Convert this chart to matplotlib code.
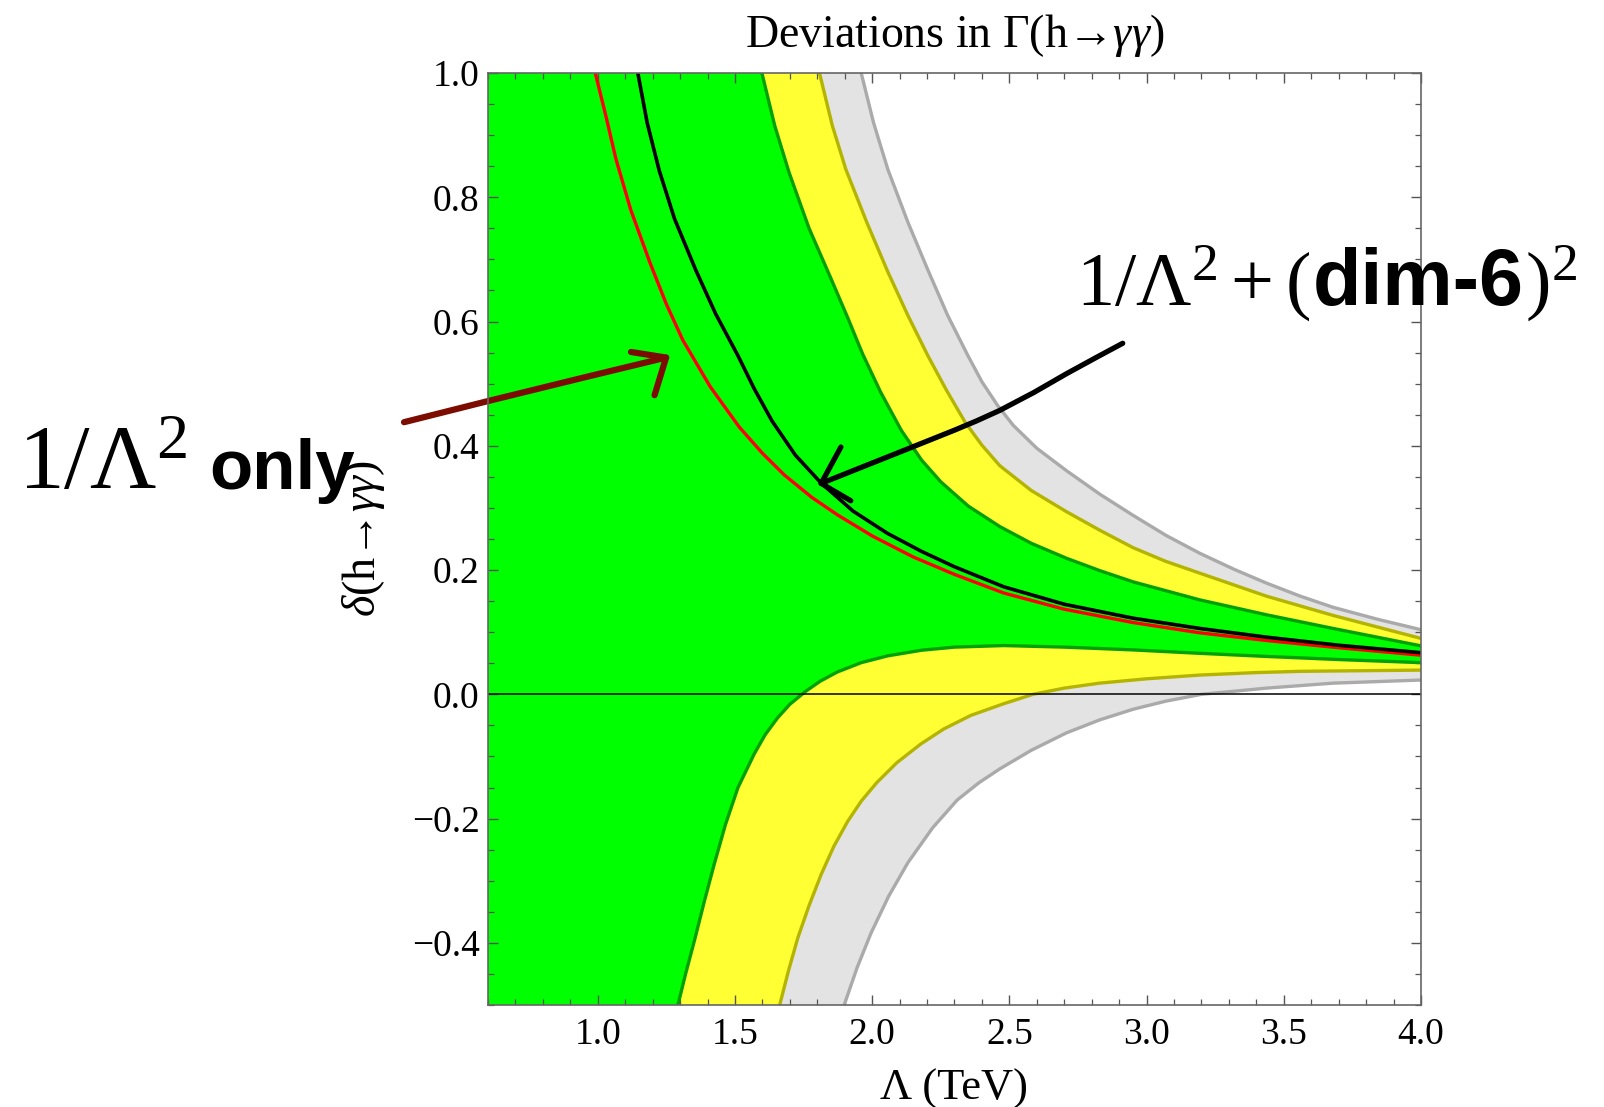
import numpy as np
import matplotlib
matplotlib.use('Agg')
import matplotlib.pyplot as plt
from matplotlib.ticker import FuncFormatter

plt.rcParams['font.family'] = ['Liberation Serif', 'DejaVu Serif']
plt.rcParams['mathtext.fontset'] = 'custom'
plt.rcParams['mathtext.rm'] = 'Liberation Serif'
plt.rcParams['mathtext.it'] = 'Liberation Serif:italic'
plt.rcParams['mathtext.bf'] = 'Liberation Sans:bold'

# values (Lambda in TeV, delta)
red_x = [0.991, 1.03, 1.066, 1.12, 1.19, 1.25, 1.31, 1.41, 1.516, 1.60, 1.68, 1.78,
         1.873, 2.0, 2.15, 2.30, 2.48, 2.70, 2.951, 3.194, 3.437, 3.70, 4.0]
red_y = [1.0, 0.93, 0.862, 0.78, 0.695, 0.628, 0.57, 0.495, 0.43, 0.388, 0.353, 0.317,
         0.289, 0.255, 0.221, 0.193, 0.163, 0.137, 0.1155, 0.099, 0.0866, 0.075, 0.063]

black_x = [1.146, 1.18, 1.224, 1.28, 1.357, 1.43, 1.511, 1.57, 1.635, 1.72, 1.814,
           1.93, 2.056, 2.18, 2.299, 2.48, 2.70, 2.951, 3.194, 3.437, 3.70, 4.0]
black_y = [1.0, 0.92, 0.843, 0.765, 0.683, 0.612, 0.545, 0.492, 0.44, 0.385, 0.34,
           0.295, 0.259, 0.23, 0.2055, 0.173, 0.145, 0.1225, 0.106, 0.092, 0.079, 0.067]

green_up_x = [1.598, 1.645, 1.697, 1.77, 1.849, 1.91, 1.965, 2.03, 2.106, 2.18, 2.25,
              2.35, 2.465, 2.58, 2.708, 2.83, 2.951, 3.194, 3.437, 3.68, 4.0]
green_up_y = [1.0, 0.915, 0.84, 0.75, 0.67, 0.607, 0.548, 0.487, 0.425, 0.377, 0.342,
              0.303, 0.27, 0.243, 0.219, 0.199, 0.181, 0.152, 0.128, 0.106, 0.078]
green_lo_x = [1.292, 1.32, 1.353, 1.389, 1.424, 1.465, 1.511, 1.57, 1.61, 1.655, 1.70,
              1.758, 1.81, 1.873, 1.96, 2.057, 2.18, 2.30, 2.48, 2.70, 2.951, 3.194,
              3.437, 3.70, 4.0]
green_lo_y = [-0.5, -0.45, -0.395, -0.332, -0.274, -0.21, -0.15, -0.096, -0.065, -0.038,
              -0.016, 0.005, 0.021, 0.036, 0.051, 0.062, 0.071, 0.076, 0.0785, 0.076,
              0.0715, 0.066, 0.061, 0.056, 0.051]

yel_up_x = [1.808, 1.855, 1.904, 1.98, 2.057, 2.13, 2.203, 2.27, 2.34, 2.40, 2.465,
            2.58, 2.708, 2.83, 2.951, 3.07, 3.194, 3.437, 3.68, 4.0]
yel_up_y = [1.0, 0.915, 0.845, 0.76, 0.68, 0.61, 0.545, 0.49, 0.437, 0.401, 0.368,
            0.328, 0.294, 0.264, 0.236, 0.214, 0.195, 0.158, 0.127, 0.090]
yel_lo_x = [1.663, 1.695, 1.729, 1.77, 1.814, 1.86, 1.910, 1.96, 2.017, 2.09, 2.177,
            2.26, 2.359, 2.48, 2.586, 2.70, 2.829, 3.0, 3.194, 3.40, 3.558, 4.0]
yel_lo_y = [-0.5, -0.445, -0.392, -0.34, -0.29, -0.245, -0.205, -0.172, -0.142, -0.11,
            -0.08, -0.056, -0.034, -0.015, 0.0, 0.01, 0.018, 0.025, 0.031, 0.035, 0.037,
            0.039]

gray_up_x = [1.960, 2.005, 2.057, 2.13, 2.203, 2.275, 2.349, 2.40, 2.457, 2.514, 2.60,
             2.708, 2.83, 2.951, 3.07, 3.194, 3.32, 3.437, 3.56, 3.68, 3.84, 4.0]
gray_up_y = [1.0, 0.92, 0.845, 0.76, 0.683, 0.61, 0.545, 0.503, 0.465, 0.433, 0.396,
             0.36, 0.322, 0.288, 0.256, 0.227, 0.201, 0.179, 0.158, 0.14, 0.121, 0.104]
gray_lo_x = [1.898, 1.945, 1.996, 2.06, 2.130, 2.22, 2.31, 2.39, 2.465, 2.58, 2.708,
             2.83, 2.951, 3.07, 3.2, 3.437, 3.68, 4.0]
gray_lo_y = [-0.5, -0.44, -0.384, -0.325, -0.271, -0.215, -0.17, -0.142, -0.12, -0.09,
             -0.062, -0.041, -0.024, -0.011, 0.0, 0.010, 0.018, 0.023]

# hand drawn arrows
arrow_red_x = [0.294, 0.6, 0.95, 1.249]
arrow_red_y = [0.438, 0.472, 0.51, 0.542]
arrow_red_head_x = [1.121, 1.249, 1.207]
arrow_red_head_y = [0.551, 0.542, 0.4815]
arrow_blk_x = [2.913, 2.82, 2.708, 2.59, 2.465, 2.38, 2.299, 2.118, 1.814]
arrow_blk_y = [0.565, 0.543, 0.516, 0.486, 0.457, 0.44, 0.425, 0.393, 0.3395]
arrow_blk_head_x = [1.886, 1.814, 1.922]
arrow_blk_head_y = [0.398, 0.3395, 0.3116]

xmin, xmax = 0.6, 4.0
ymin, ymax = -0.5, 1.0

fig = plt.figure(figsize=(16.04, 11.07), dpi=100)
ax = fig.add_axes([488/1604, 1-1005/1107, 933/1604, 932/1107])

bands = [
    (gray_up_x, gray_up_y, gray_lo_x, gray_lo_y, '#e3e3e3', '#aaaaaa'),
    (yel_up_x, yel_up_y, yel_lo_x, yel_lo_y, '#ffff33', '#b4b400'),
    (green_up_x, green_up_y, green_lo_x, green_lo_y, '#00ff00', '#00a000'),
]
for ux, uy, lx, ly, fc, ec in bands:
    px = np.concatenate([ux, lx[::-1], [xmin, xmin]])
    py = np.concatenate([uy, ly[::-1], [ymin, ymax]])
    ax.fill(px, py, color=fc, lw=0, zorder=1)
for ux, uy, lx, ly, fc, ec in bands:
    ax.plot(ux, uy, color=ec, lw=2.4, zorder=2, solid_joinstyle='round')
    ax.plot(lx, ly, color=ec, lw=2.4, zorder=2, solid_joinstyle='round')

ax.axhline(0, color='black', lw=1.1, zorder=3)
ax.plot(red_x, red_y, color='#ff0000', lw=2.4, zorder=4, solid_joinstyle='round')
ax.plot(black_x, black_y, color='black', lw=2.6, zorder=4, solid_joinstyle='round')

ax.plot(arrow_red_x, arrow_red_y, color='#7d0c00', lw=4.5, clip_on=False,
        solid_capstyle='round', zorder=6)
ax.plot(arrow_red_head_x, arrow_red_head_y, color='#7d0c00', lw=4.5, clip_on=False,
        solid_capstyle='round', solid_joinstyle='round', zorder=6)
ax.plot(arrow_blk_x, arrow_blk_y, color='black', lw=3.8, clip_on=False,
        solid_capstyle='round', solid_joinstyle='round', zorder=6)
ax.plot(arrow_blk_head_x, arrow_blk_head_y, color='black', lw=3.8, clip_on=False,
        solid_capstyle='round', solid_joinstyle='round', zorder=6)

ax.set_xlim(xmin, xmax)
ax.set_ylim(ymin, ymax)
ax.set_xticks(np.arange(1.0, 4.01, 0.5))
ax.set_xticks(np.arange(0.6, 4.001, 0.1), minor=True)
ax.set_yticks(np.arange(-0.4, 1.01, 0.2))
ax.set_yticks(np.arange(-0.5, 1.001, 0.05), minor=True)


def fmt(v, pos):
    if abs(v) < 1e-9:
        v = 0.0
    return f'{v:.1f}'.replace('-', '\u2212')


ax.xaxis.set_major_formatter(FuncFormatter(fmt))
ax.yaxis.set_major_formatter(FuncFormatter(fmt))
ax.tick_params(which='both', direction='in', top=True, right=True, color='#555555',
               labelsize=27, zorder=10)
ax.tick_params(which='major', length=7.5, width=1.0)
ax.tick_params(axis='x', which='major', pad=9)
ax.tick_params(axis='y', which='major', pad=6)
ax.tick_params(which='minor', length=4, width=0.9)
for sp in ax.spines.values():
    sp.set_color('#666666')
    sp.set_linewidth(1.2)
    sp.set_zorder(10)

ax.set_title(r'Deviations in $\Gamma$(h→$\gamma\gamma$)', fontsize=33, pad=19)
ax.set_xlabel('Λ (TeV)', fontsize=32, labelpad=12)
ax.set_ylabel(r'$\delta$(h→$\gamma\gamma$)', fontsize=33, labelpad=18)

# annotations: serif part and bold sans part chained one after another
fig.canvas.draw()
rend = fig.canvas.get_renderer()
W, H = fig.bbox.width, fig.bbox.height


def chain(parts, x0, y0):
    x = x0
    for s, kw, gap in parts:
        t = fig.text((x + gap) / W, 1 - y0 / H, s, ha='left', va='baseline',
                     zorder=8, **kw)
        x = t.get_window_extent(renderer=rend).x1


chain([(r'$1/\Lambda^2$', dict(fontsize=66), 0),
       ('only', dict(fontsize=51, family='Liberation Sans', weight='bold'), 22)],
      18, 489)
chain([(r'$1/\Lambda^2+($', dict(fontsize=55), 0),
       ('dim-6', dict(fontsize=57, family='Liberation Sans', weight='bold'), 3),
       (r'$)^2$', dict(fontsize=55), 1)],
      1076, 305)

fig.savefig('out.png', dpi=100)
